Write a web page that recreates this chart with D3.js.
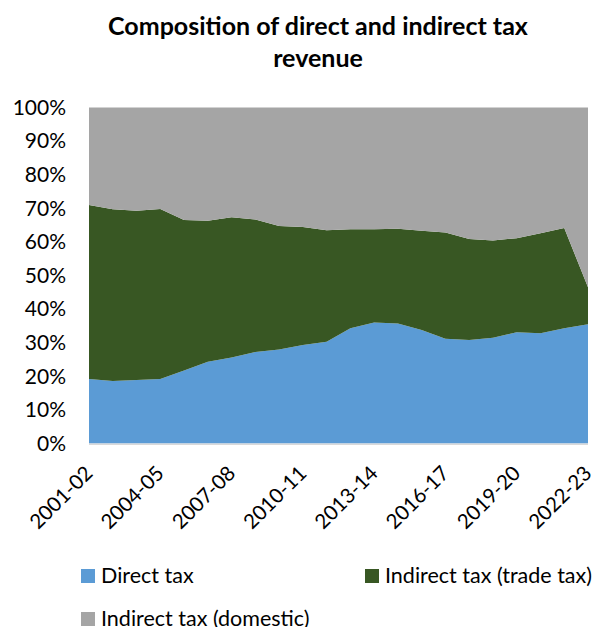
<!DOCTYPE html>
<html>
<head>
<meta charset="utf-8">
<script src="https://cdn.jsdelivr.net/npm/d3@7"></script>
<style>
  body { margin: 0; background: #fff; }
  svg { display: block; font-family: Lato, "Open Sans", sans-serif; }
</style>
</head>
<body>
<svg id="chart" width="597" height="627"></svg>
<script>
"use strict";

var years = ["2001-02","2002-03","2003-04","2004-05","2005-06","2006-07","2007-08","2008-09",
    "2009-10","2010-11","2011-12","2012-13","2013-14","2014-15","2015-16","2016-17",
    "2017-18","2018-19","2019-20","2020-21","2021-22","2022-23"];
var directTax = [19.2,18.6,18.9,19.2,21.7,24.3,25.6,27.2,28.0,29.3,30.3,34.3,36.0,35.7,33.8,31.2,30.8,31.5,33.1,32.8,34.3,35.5];
var tradeTax = [51.8,51.1,50.4,50.6,44.8,42.0,41.7,39.5,36.7,35.1,33.2,29.5,27.8,28.2,29.5,31.6,30.1,28.9,28.0,29.8,29.8,11.0];
var domesticTax = [29.0,30.3,30.7,30.2,33.5,33.7,32.7,33.3,35.3,35.6,36.5,36.2,36.2,36.1,36.7,37.2,39.1,39.6,38.9,37.4,35.9,53.5];
var tickYears = ["2001-02","2004-05","2007-08","2010-11","2013-14","2016-17","2019-20","2022-23"];
var seriesNames = ["Direct tax", "Indirect tax (trade tax)", "Indirect tax (domestic)"];
var colors = ["#5b9bd5", "#385723", "#a5a5a5"];

var rows = years.map((y, i) => ({year: y, direct: directTax[i], trade: tradeTax[i], domestic: domesticTax[i]}));
var keys = ["direct", "trade", "domestic"];

var svg = d3.select("#chart");
var margin = {left: 89, right: 9, top: 107.5, bottom: 183.5};
var width = 597 - margin.left - margin.right;
var height = 627 - margin.top - margin.bottom;

var x = d3.scalePoint().domain(years).range([0, width]);
var y = d3.scaleLinear().domain([0, 1]).range([height, 0]);

// title
svg.append("text")
    .attr("x", 318).attr("y", 35)
    .attr("text-anchor", "middle")
    .style("font-weight", "bold").style("font-size", "25px")
    .text("Composition of direct and indirect tax");
svg.append("text")
    .attr("x", 318).attr("y", 67)
    .attr("text-anchor", "middle")
    .style("font-weight", "bold").style("font-size", "25px")
    .text("revenue");

var g = svg.append("g").attr("transform", `translate(${margin.left},${margin.top})`);

var stacked = d3.stack().keys(keys).offset(d3.stackOffsetExpand)(rows);
var area = d3.area()
    .x(d => x(d.data.year))
    .y0(d => y(d[0]))
    .y1(d => y(d[1]));

g.selectAll("path.layer")
    .data(stacked)
    .enter()
    .append("path")
    .attr("class", "layer")
    .attr("fill", (d, i) => colors[i])
    .attr("d", area);

// bottom axis line
g.append("line")
    .attr("x1", 0).attr("x2", width)
    .attr("y1", height + 0.75).attr("y2", height + 0.75)
    .attr("stroke", "#d9d9d9").attr("stroke-width", 1.5);

// y axis labels
var yAxis = d3.axisLeft(y).ticks(10).tickFormat(d3.format(".0%")).tickSize(0).tickPadding(23);
g.append("g").call(yAxis)
    .call(s => s.select(".domain").remove())
    .selectAll("text")
    .style("font-family", "Lato, sans-serif")
    .style("font-size", "21px")
    .attr("fill", "#000");

// x axis labels
var xAxis = d3.axisBottom(x).tickValues(tickYears).tickSize(0).tickPadding(0);
g.append("g").attr("transform", `translate(0,${height})`).call(xAxis)
    .call(s => s.select(".domain").remove())
    .selectAll("text")
    .style("font-family", "Lato, sans-serif")
    .style("font-size", "20.5px")
    .attr("fill", "#000")
    .attr("text-anchor", "end")
    .attr("y", 0)
    .attr("dy", 0)
    .attr("transform", "translate(4.5,31) rotate(-45)");

// legend
var legendPos = [[81, 569], [365, 569], [81, 612]];
var legend = svg.append("g");
seriesNames.forEach((name, i) => {
    var item = legend.append("g").attr("transform", `translate(${legendPos[i][0]},${legendPos[i][1]})`);
    item.append("rect").attr("width", 14).attr("height", 14).attr("fill", colors[i]);
    item.append("text")
        .attr("x", 20).attr("y", 14)
        .style("font-size", "21.5px")
        .text(name);
});
</script>
</body>
</html>
